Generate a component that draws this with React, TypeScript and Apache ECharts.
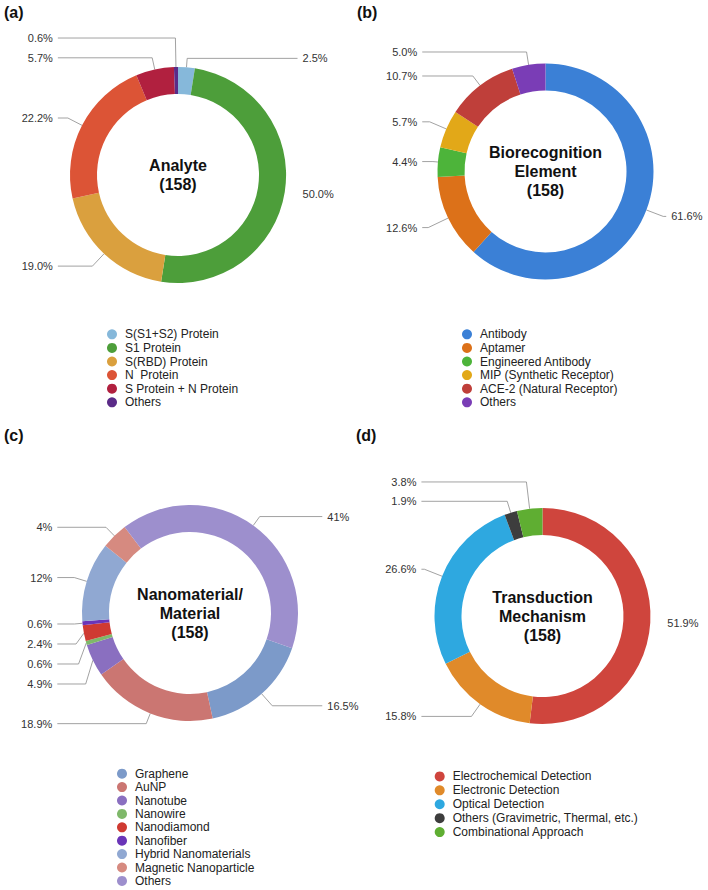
import React, { useEffect, useRef } from 'react';
import * as echarts from 'echarts';

const FONT = '"Liberation Sans", Arial, Helvetica, sans-serif';

// (a) Analyte
const analyteNames = ['S(S1+S2) Protein', 'S1 Protein', 'S(RBD) Protein', 'N  Protein', 'S Protein + N Protein', 'Others'];
const analyteValues = [2.5, 50.0, 19.0, 22.2, 5.7, 0.6];

// (b) Biorecognition element
const bioNames = ['Antibody', 'Aptamer', 'Engineered Antibody', 'MIP (Synthetic Receptor)', 'ACE-2 (Natural Receptor)', 'Others'];
const bioValues = [61.6, 12.6, 4.4, 5.7, 10.7, 5.0];

// (c) Nanomaterial / material
const nanoNames = ['Graphene', 'AuNP', 'Nanotube', 'Nanowire', 'Nanodiamond', 'Nanofiber', 'Hybrid Nanomaterials', 'Magnetic Nanoparticle', 'Others'];
const nanoValues = [16.5, 18.9, 4.9, 0.6, 2.4, 0.6, 12, 4, 41];

// (d) Transduction mechanism
const transNames = ['Electrochemical Detection', 'Electronic Detection', 'Optical Detection', 'Others (Gravimetric, Thermal, etc.)', 'Combinational Approach'];
const transValues = [51.9, 15.8, 26.6, 1.9, 3.8];

// styles
const analyteColors = ['#86b8da', '#4d9e3a', '#daa03e', '#dc5436', '#b1203f', '#5b2b88'];
const bioColors = ['#3b80d6', '#dc7119', '#4db43a', '#e2a818', '#bf3f3a', '#7a3db6'];
const nanoColors = ['#7c9ac9', '#cb7672', '#8a6fc0', '#7fb86a', '#cf3a32', '#6a35b8', '#90a8d2', '#d68a80', '#9d8fcd'];
const transColors = ['#cf453d', '#e08a2a', '#2ea8e0', '#3d3d3d', '#5fae32'];

const analyteLeaderLen = [9, 13, 17, 16, 12, 29];
const analyteLeaderLen2 = [0, 0, 10, 10, 10, 10];
const analyteLeaderShow = [true, false, true, true, true, true];

const bioLeaderLen = [18, 22, 5, 18, 12, 13];
const bioLeaderLen2 = [3, 6, 6, 6, 6, 6];
const bioLeaderShow = [true, true, true, true, true, true];

const nanoLeaderLen = [16, 11, 8, 8, 8, 8, 13, 12, 11];
const nanoLeaderLen2 = [50, 17, 17, 17, 17, 17, 17, 17, 50];
const nanoLeaderShow = [true, true, true, true, true, true, true, true, true];

const transLeaderLen = [12, 15, 19, 12, 27];
const transLeaderLen2 = [0, 3, 3, 3, 3];
const transLeaderShow = [false, true, true, true, true];

const fixed1 = (v: number) => v.toFixed(1) + '%';
const plain = (v: number) => String(v) + '%';

const panels = [
  {
    letter: '(a)', letterX: 4, letterY: 12.5, title: 'Analyte\n(158)',
    cx: 178, cy: 175, names: analyteNames, values: analyteValues, colors: analyteColors,
    len: analyteLeaderLen, len2: analyteLeaderLen2, show: analyteLeaderShow,
    startAngle: 90, fmt: fixed1, legendLeft: 107, legendTop: 327.5, pitch: 13.6, labelLH: 14,
  },
  {
    letter: '(b)', letterX: 357, letterY: 12.5, title: 'Biorecognition\nElement\n(158)',
    cx: 545.5, cy: 171.5, names: bioNames, values: bioValues, colors: bioColors,
    len: bioLeaderLen, len2: bioLeaderLen2, show: bioLeaderShow,
    startAngle: 90, fmt: fixed1, legendLeft: 462, legendTop: 327.5, pitch: 13.6, labelLH: 14,
  },
  {
    letter: '(c)', letterX: 4, letterY: 435, title: 'Nanomaterial/\nMaterial\n(158)',
    cx: 190, cy: 613, names: nanoNames, values: nanoValues, colors: nanoColors,
    len: nanoLeaderLen, len2: nanoLeaderLen2, show: nanoLeaderShow,
    startAngle: 341, fmt: plain, legendLeft: 117, legendTop: 767, pitch: 13.4, labelLH: 18,
  },
  {
    letter: '(d)', letterX: 356, letterY: 435, title: 'Transduction\nMechanism\n(158)',
    cx: 542.5, cy: 616, names: transNames, values: transValues, colors: transColors,
    len: transLeaderLen, len2: transLeaderLen2, show: transLeaderShow,
    startAngle: 90, fmt: fixed1, legendLeft: 434.7, legendTop: 769.5, pitch: 13.9, labelLH: 14,
  },
];

function buildOption(p: any) {
  return {
    animation: false,
    legend: {
      orient: 'vertical',
      left: p.legendLeft,
      top: p.legendTop,
      padding: 0,
      height: 200,
      icon: 'circle',
      itemWidth: 16,
      itemHeight: 10,
      itemGap: 0,
      selectedMode: false,
      textStyle: { fontSize: 12, color: '#222', fontFamily: FONT, lineHeight: p.pitch },
      data: p.names,
    },
    graphic: [
      {
        type: 'text', x: p.letterX, y: p.letterY,
        style: { text: p.letter, font: `bold 16px ${FONT}`, fill: '#111', align: 'left', verticalAlign: 'middle' },
      },
      {
        type: 'text', x: p.cx, y: p.cy,
        style: { text: p.title, font: `bold 16px ${FONT}`, fill: '#111', align: 'center', verticalAlign: 'middle', lineHeight: 19 },
      },
    ],
    series: [
      {
        type: 'pie',
        center: [p.cx, p.cy],
        radius: [81, 108],
        startAngle: p.startAngle,
        clockwise: true,
        avoidLabelOverlap: true,
        emphasis: { disabled: true },
        itemStyle: { borderWidth: 0 },
        label: {
          show: true,
          alignTo: 'labelLine',
          formatter: (q: any) => p.fmt(q.value),
          fontSize: 11,
          color: '#333',
          fontFamily: FONT,
          width: 40,
          overflow: 'none',
          distanceToLabelLine: 5,
          bleedMargin: 0,
          lineHeight: p.labelLH,
        },
        labelLine: { show: true, lineStyle: { color: '#8a8a8a', width: 0.8 } },
        data: p.names.map((n: string, i: number) => ({
          name: n,
          value: p.values[i],
          itemStyle: { color: p.colors[i] },
          labelLine: { show: p.show[i], length: p.len[i], length2: p.len2[i] },
        })),
      },
    ],
  };
}

function PanelChart({ panel }: { panel: any }) {
  const ref = useRef<HTMLDivElement>(null);
  useEffect(() => {
    const chart = echarts.init(ref.current as HTMLDivElement, null, { renderer: 'svg' });
    chart.setOption(buildOption(panel) as any);
    return () => chart.dispose();
  }, []);
  return <div ref={ref} style={{ position: 'absolute', left: 0, top: 0, width: 708, height: 890 }} />;
}

export default function App() {
  return (
    <div style={{ position: 'absolute', left: 0, top: 0, width: 708, height: 890, background: '#fff' }}>
      {panels.map((p, i) => (
        <PanelChart key={i} panel={p} />
      ))}
    </div>
  );
}
